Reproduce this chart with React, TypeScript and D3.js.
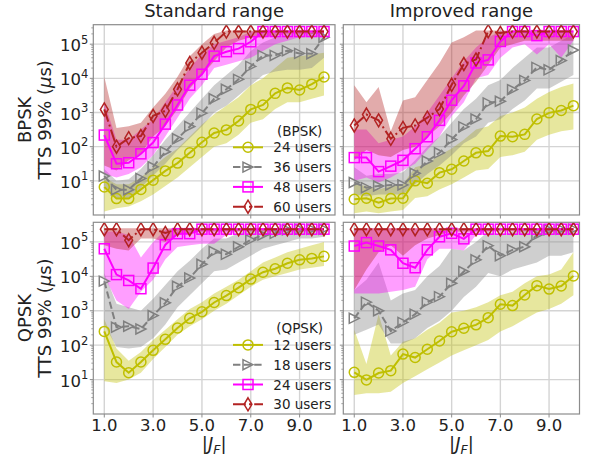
import React from "react";
import * as d3 from "d3";

// |J_F| values (x axis)
const JF = [1, 1.5, 2, 2.5, 3, 3.5, 4, 4.5, 5, 5.5, 6, 6.5, 7, 7.5, 8, 8.5, 9, 9.5, 10];
const X_TICKS = [1, 3, 5, 7, 9];
const Y_DECADES = [1, 2, 3, 4, 5];

// All TTS values below are given as exponents e (TTS = 10^e microseconds).
// ---- BPSK, standard range ----
const tl24 = [0.82, 0.48, 0.48, 0.75, 1.02, 1.29, 1.52, 1.82, 2.13, 2.40, 2.49, 2.75, 3.09, 3.22, 3.56, 3.72, 3.66, 3.83, 4.04];
const tl24Lo = [0.10, 0.20, 0.25, 0.40, 0.60, 0.85, 1.10, 1.40, 1.70, 2.00, 2.10, 2.35, 2.70, 2.80, 3.10, 3.30, 3.30, 3.40, 3.50];
const tl24Hi = [1.10, 0.90, 0.90, 1.10, 1.40, 1.70, 1.95, 2.30, 2.65, 2.95, 3.20, 3.45, 3.80, 4.00, 4.30, 4.60, 4.65, 4.70, 4.75];
const tl36 = [1.14, 0.74, 0.74, 1.07, 1.41, 1.85, 2.23, 2.59, 2.98, 3.40, 3.68, 3.97, 4.35, 4.67, 4.67, 4.81, 4.73, 4.72, 5.20];
const tl36Lo = [0.85, 0.50, 0.50, 0.80, 1.15, 1.50, 1.90, 2.25, 2.60, 3.00, 3.20, 3.50, 3.80, 4.10, 4.20, 4.25, 4.25, 4.30, 4.60];
const tl36Hi = [1.35, 1.00, 1.05, 1.35, 1.75, 2.20, 2.60, 3.00, 3.40, 3.80, 4.10, 4.40, 4.80, 5.05, 5.20, 5.30, 5.30, 5.33, 5.36];
const tl48 = [2.34, 1.50, 1.53, 1.79, 2.12, 2.66, 3.22, 3.80, 4.12, 4.65, 4.78, 4.87, 5.07, 5.37, 5.37, 5.37, 5.37, 5.37, 5.37];
const tl48Lo = [1.20, 1.10, 1.20, 1.40, 1.75, 2.30, 2.85, 3.40, 3.80, 4.30, 4.40, 4.50, 4.60, 4.80, 5.00, 5.10, 5.20, 5.20, 5.25];
const tl48Hi = [3.30, 2.20, 2.20, 2.50, 2.80, 3.30, 3.80, 4.30, 4.70, 5.00, 5.10, 5.20, 5.37, 5.40, 5.40, 5.40, 5.40, 5.40, 5.40];
const tl60 = [3.09, 2.00, 2.25, 2.31, 2.90, 3.05, 3.68, 4.45, 4.75, 5.04, 5.37, 5.37, 5.37, 5.37, 5.37, 5.37, 5.37, 5.37, 5.37];
const tl60Lo = [1.45, 1.30, 1.60, 1.80, 2.30, 2.60, 3.10, 3.70, 4.10, 4.50, 4.90, 5.10, 5.20, 5.20, 5.25, 5.30, 5.30, 5.30, 5.30];
const tl60Hi = [4.05, 2.55, 2.60, 2.70, 3.15, 3.55, 4.05, 4.65, 5.00, 5.30, 5.40, 5.40, 5.40, 5.40, 5.40, 5.40, 5.40, 5.40, 5.40];

// ---- BPSK, improved range ----
const tr24 = [0.46, 0.49, 0.36, 0.48, 0.49, 1.00, 0.93, 1.24, 1.34, 1.58, 1.82, 1.87, 2.31, 2.29, 2.36, 2.81, 2.99, 3.06, 3.20];
const tr24Lo = [0.05, 0.10, 0.05, 0.10, 0.15, 0.50, 0.55, 0.75, 0.90, 1.10, 1.30, 1.35, 1.70, 1.75, 1.85, 2.20, 2.35, 2.45, 2.50];
const tr24Hi = [0.90, 0.85, 0.75, 0.85, 0.90, 1.40, 1.50, 1.75, 1.95, 2.20, 2.50, 2.60, 2.90, 3.00, 3.15, 3.40, 3.60, 3.75, 3.85];
const tr36 = [0.95, 0.80, 0.85, 0.88, 0.88, 1.22, 1.58, 1.82, 2.21, 2.58, 2.81, 3.28, 3.33, 3.67, 3.94, 4.32, 4.25, 4.52, 4.83];
const tr36Lo = [0.60, 0.55, 0.60, 0.60, 0.60, 0.90, 1.20, 1.45, 1.75, 2.10, 2.30, 2.70, 2.80, 3.10, 3.35, 3.70, 3.70, 3.90, 4.10];
const tr36Hi = [1.40, 1.15, 1.20, 1.20, 1.25, 1.60, 2.00, 2.30, 2.70, 3.10, 3.40, 3.80, 3.95, 4.30, 4.60, 4.90, 4.90, 5.10, 5.30];
const tr48 = [1.68, 1.68, 1.27, 1.43, 1.60, 1.94, 2.29, 2.77, 3.36, 3.78, 4.45, 4.54, 5.08, 5.37, 5.37, 5.25, 5.37, 5.37, 5.37];
const tr48Lo = [1.00, 1.10, 0.95, 1.10, 1.30, 1.50, 1.90, 2.30, 2.90, 3.30, 4.00, 4.10, 4.60, 4.90, 5.00, 4.70, 5.00, 4.60, 5.10];
const tr48Hi = [2.50, 2.50, 2.10, 2.20, 2.30, 2.60, 3.00, 3.50, 4.00, 4.50, 4.90, 5.20, 5.37, 5.40, 5.40, 5.40, 5.40, 5.40, 5.40];
const tr60 = [2.62, 2.94, 2.77, 2.23, 2.55, 2.62, 2.85, 3.10, 3.81, 4.42, 4.55, 5.38, 5.33, 5.37, 5.37, 5.37, 5.37, 5.37, 5.37];
const tr60Lo = [1.60, 1.90, 1.75, 1.70, 1.90, 2.00, 2.30, 2.60, 3.00, 3.50, 3.90, 4.40, 4.90, 5.00, 5.10, 5.10, 5.10, 5.10, 5.10];
const tr60Hi = [3.80, 3.30, 3.75, 2.45, 3.35, 3.45, 3.95, 4.45, 5.05, 5.20, 5.40, 5.40, 5.40, 5.40, 5.40, 5.40, 5.40, 5.40, 5.40];

// ---- QPSK, standard range ----
const bl12 = [2.40, 1.51, 1.20, 1.51, 1.85, 2.17, 2.50, 2.78, 2.97, 3.24, 3.44, 3.67, 3.92, 4.12, 4.22, 4.38, 4.48, 4.52, 4.58];
const bl12Lo = [0.95, 0.90, 1.00, 1.20, 1.60, 1.95, 2.30, 2.55, 2.75, 3.00, 3.20, 3.45, 3.70, 3.90, 4.00, 4.10, 4.20, 4.25, 4.30];
const bl12Hi = [2.75, 1.90, 1.55, 1.80, 2.15, 2.45, 2.75, 3.05, 3.25, 3.50, 3.70, 3.90, 4.15, 4.40, 4.55, 4.70, 4.80, 4.90, 5.00];
const bl18 = [3.86, 2.52, 2.55, 2.47, 2.86, 3.23, 3.71, 3.95, 4.35, 4.72, 4.64, 4.86, 5.06, 5.20, 5.25, 5.35, 5.37, 5.37, 5.37];
const bl18Lo = [2.60, 1.95, 1.90, 1.95, 2.20, 2.60, 3.10, 3.45, 3.80, 4.15, 4.20, 4.40, 4.60, 4.80, 4.90, 5.00, 5.10, 5.10, 5.15];
const bl18Hi = [4.10, 3.20, 3.10, 3.00, 3.35, 3.75, 4.15, 4.45, 4.80, 5.10, 5.10, 5.25, 5.35, 5.40, 5.40, 5.40, 5.40, 5.40, 5.40];
const bl24 = [4.80, 4.05, 3.88, 3.64, 4.24, 4.92, 5.24, 5.24, 5.37, 5.37, 5.37, 5.37, 5.37, 5.37, 5.37, 5.37, 5.37, 5.37, 5.37];
const bl24Lo = [4.00, 3.30, 3.05, 3.55, 3.90, 4.50, 4.85, 4.90, 4.95, 4.95, 5.20, 5.30, 5.35, 5.37, 5.37, 5.37, 5.37, 5.37, 5.37];
const bl24Hi = [5.30, 5.30, 5.20, 4.55, 5.00, 5.35, 5.40, 5.40, 5.40, 5.40, 5.40, 5.40, 5.40, 5.40, 5.40, 5.40, 5.40, 5.40, 5.40];
const bl30 = [5.37, 5.37, 5.05, 5.37, 5.37, 5.26, 5.37, 5.37, 5.37, 5.37, 5.37, 5.37, 5.37, 5.37, 5.37, 5.37, 5.37, 5.37, 5.37];
const bl30Lo = [4.90, 4.80, 4.75, 5.10, 5.10, 5.00, 5.20, 5.25, 5.30, 5.30, 5.30, 5.30, 5.30, 5.30, 5.30, 5.30, 5.30, 5.30, 5.30];
const bl30Hi = [5.40, 5.40, 5.40, 5.40, 5.40, 5.40, 5.40, 5.40, 5.40, 5.40, 5.40, 5.40, 5.40, 5.40, 5.40, 5.40, 5.40, 5.40, 5.40];

// ---- QPSK, improved range ----
const br12 = [1.21, 0.99, 1.19, 1.26, 1.74, 1.64, 1.88, 2.12, 2.39, 2.49, 2.59, 2.80, 3.19, 3.15, 3.46, 3.73, 3.63, 3.72, 4.01];
const br12Lo = [0.55, 0.60, 0.60, 0.65, 0.90, 1.10, 1.30, 1.50, 1.70, 1.85, 2.00, 2.15, 2.40, 2.55, 2.75, 2.95, 3.05, 3.20, 3.45];
const br12Hi = [2.45, 1.45, 2.90, 1.70, 2.10, 2.20, 2.45, 2.65, 2.95, 3.00, 3.10, 3.25, 3.45, 3.55, 3.80, 4.00, 4.05, 4.20, 4.70];
const br18 = [2.78, 3.25, 3.00, 2.41, 2.66, 2.90, 3.25, 3.41, 3.80, 4.14, 4.48, 4.89, 4.60, 4.77, 4.86, 5.20, 5.35, 5.37, 5.37];
const br18Lo = [2.30, 2.45, 2.60, 2.05, 2.05, 2.20, 2.50, 2.70, 3.00, 3.40, 3.70, 4.10, 4.00, 4.20, 4.30, 4.40, 4.60, 4.60, 4.70];
const br18Hi = [3.60, 3.90, 4.40, 3.30, 3.50, 3.60, 4.00, 4.30, 4.80, 4.75, 5.00, 5.30, 5.20, 5.30, 5.35, 5.38, 5.40, 5.40, 5.40];
const br24 = [4.88, 4.98, 4.88, 4.77, 4.38, 4.25, 4.77, 5.15, 5.25, 5.09, 5.37, 5.37, 5.37, 5.37, 5.37, 5.37, 5.37, 5.37, 5.37];
const br24Lo = [3.50, 3.50, 3.50, 3.55, 3.60, 3.70, 4.50, 4.80, 4.80, 4.75, 5.20, 5.30, 5.35, 5.37, 5.37, 5.37, 5.37, 5.37, 5.37];
const br24Hi = [5.35, 5.40, 5.40, 5.40, 5.40, 5.40, 5.40, 5.40, 5.40, 5.40, 5.40, 5.40, 5.40, 5.40, 5.40, 5.40, 5.40, 5.40, 5.40];
const br30 = [5.37, 5.37, 5.37, 5.37, 5.37, 5.37, 5.37, 5.37, 5.37, 5.37, 5.37, 5.37, 5.37, 5.37, 5.37, 5.37, 5.37, 5.37, 5.37];
const br30Lo = [3.60, 4.20, 4.70, 4.90, 4.60, 4.90, 5.10, 5.20, 5.30, 5.30, 5.30, 5.30, 5.30, 5.30, 5.30, 5.30, 5.30, 5.30, 5.30];
const br30Hi = [5.40, 5.40, 5.40, 5.40, 5.40, 5.40, 5.40, 5.40, 5.40, 5.40, 5.40, 5.40, 5.40, 5.40, 5.40, 5.40, 5.40, 5.40, 5.40];

const BPSK_LABELS = ["24 users", "36 users", "48 users", "60 users"];
const QPSK_LABELS = ["12 users", "18 users", "24 users", "30 users"];
const COL_TITLES = ["Standard range", "Improved range"];
const ROW_NAMES = ["BPSK", "QPSK"];

const STYLES = [
  { color: "#bfbf00", marker: "circle", dash: "" },
  { color: "#808080", marker: "tri", dash: "7.4,3.2" },
  { color: "#ff00ff", marker: "square", dash: "" },
  { color: "#b22222", marker: "diamond", dash: "12.8,3.2,2,3.2" },
];
const BAND_ALPHA = 0.38;

const FONT = "DejaVu Sans, sans-serif";
const SPINE = "#8c8c8c";
const GRID = "#d4d4d4";
const TEXT = "#222";

type S = { mid: number[]; lo: number[]; hi: number[] };

const PANELS = [
  { id: "tl", x0: 93.3, x1: 335, y0: 24.7, y1: 215, xMax: 10.45, left: true, bottom: false, title: COL_TITLES[0], legend: { name: "(BPSK)", labels: BPSK_LABELS },
    series: [ { mid: tl24, lo: tl24Lo, hi: tl24Hi }, { mid: tl36, lo: tl36Lo, hi: tl36Hi }, { mid: tl48, lo: tl48Lo, hi: tl48Hi }, { mid: tl60, lo: tl60Lo, hi: tl60Hi } ] },
  { id: "tr", x0: 343.3, x1: 579.5, y0: 24.7, y1: 215, xMax: 10.25, left: false, bottom: false, title: COL_TITLES[1], legend: null,
    series: [ { mid: tr24, lo: tr24Lo, hi: tr24Hi }, { mid: tr36, lo: tr36Lo, hi: tr36Hi }, { mid: tr48, lo: tr48Lo, hi: tr48Hi }, { mid: tr60, lo: tr60Lo, hi: tr60Hi } ] },
  { id: "bl", x0: 93.3, x1: 335, y0: 222.3, y1: 414, xMax: 10.45, left: true, bottom: true, title: null, legend: { name: "(QPSK)", labels: QPSK_LABELS },
    series: [ { mid: bl12, lo: bl12Lo, hi: bl12Hi }, { mid: bl18, lo: bl18Lo, hi: bl18Hi }, { mid: bl24, lo: bl24Lo, hi: bl24Hi }, { mid: bl30, lo: bl30Lo, hi: bl30Hi } ] },
  { id: "br", x0: 343.3, x1: 579.5, y0: 222.3, y1: 414, xMax: 10.25, left: false, bottom: true, title: null, legend: null,
    series: [ { mid: br12, lo: br12Lo, hi: br12Hi }, { mid: br18, lo: br18Lo, hi: br18Hi }, { mid: br24, lo: br24Lo, hi: br24Hi }, { mid: br30, lo: br30Lo, hi: br30Hi } ] },
];

function Marker({ kind, x, y, color }: { kind: string; x: number; y: number; color: string }) {
  const common = { fill: "none", stroke: color, strokeWidth: 1.5 };
  if (kind === "circle") return <circle cx={x} cy={y} r={5} {...common} />;
  if (kind === "square") return <rect x={x - 5} y={y - 5} width={10} height={10} {...common} />;
  if (kind === "tri") return <path d={`M${x + 5},${y} L${x - 5},${y + 5} L${x - 5},${y - 5} Z`} {...common} />;
  return <path d={`M${x},${y - 6.5} L${x + 3.9},${y} L${x},${y + 6.5} L${x - 3.9},${y} Z`} {...common} />;
}

function Panel({ p }: { p: any }) {
  const x = d3.scaleLinear().domain([0.55, p.xMax]).range([p.x0, p.x1]);
  const y = d3.scaleLog().domain([1, Math.pow(10, 5.57)]).range([p.y1, p.y0]);
  const clip = `clip-${p.id}`;
  const minor: number[] = [];
  for (let k = 0; k <= 5; k++) for (let m = 2; m <= 9; m++) {
    const v = m * Math.pow(10, k);
    if (v < Math.pow(10, 5.57)) minor.push(v);
  }
  const series: S[] = p.series;
  const band = (s: S) =>
    d3.area<number>().x((d) => x(d)).y0((_, i) => y(Math.pow(10, s.lo[i]))).y1((_, i) => y(Math.pow(10, s.hi[i])))(JF) || "";
  const line = (s: S) => d3.line<number>().x((d) => x(d)).y((_, i) => y(Math.pow(10, s.mid[i])))(JF) || "";
  const cx = (p.x0 + p.x1) / 2;
  return (
    <g>
      <defs>
        <clipPath id={clip}>
          <rect x={p.x0} y={p.y0} width={p.x1 - p.x0} height={p.y1 - p.y0} />
        </clipPath>
      </defs>
      {X_TICKS.map((t) => (
        <line key={"gx" + t} x1={x(t)} x2={x(t)} y1={p.y0} y2={p.y1} stroke={GRID} strokeWidth={1.4} />
      ))}
      {Y_DECADES.map((k) => (
        <line key={"gy" + k} x1={p.x0} x2={p.x1} y1={y(Math.pow(10, k))} y2={y(Math.pow(10, k))} stroke={GRID} strokeWidth={1.4} />
      ))}
      <g clipPath={`url(#${clip})`}>
        {series.map((s, i) => (
          <path key={"b" + i} d={band(s)} fill={STYLES[i].color} fillOpacity={BAND_ALPHA} stroke="none" />
        ))}
        {series.map((s, i) => (
          <g key={"l" + i}>
            <path d={line(s)} fill="none" stroke={STYLES[i].color} strokeWidth={2} strokeDasharray={STYLES[i].dash || undefined} />
            {JF.map((v, j) => (
              <Marker key={j} kind={STYLES[i].marker} x={x(v)} y={y(Math.pow(10, s.mid[j]))} color={STYLES[i].color} />
            ))}
          </g>
        ))}
      </g>
      <rect x={p.x0} y={p.y0} width={p.x1 - p.x0} height={p.y1 - p.y0} fill="none" stroke={SPINE} strokeWidth={1.2} />
      {X_TICKS.map((t) => (
        <g key={"xt" + t}>
          <line x1={x(t)} x2={x(t)} y1={p.y1} y2={p.y1 + 3.5} stroke={SPINE} strokeWidth={1} />
          {p.bottom && (
            <text x={x(t)} y={p.y1 + 17} textAnchor="middle" fontFamily={FONT} fontSize={16.5} fill={TEXT}>
              {d3.format(".1f")(t)}
            </text>
          )}
        </g>
      ))}
      {Y_DECADES.map((k) => (
        <g key={"yt" + k}>
          <line x1={p.x0 - 3.5} x2={p.x0} y1={y(Math.pow(10, k))} y2={y(Math.pow(10, k))} stroke={SPINE} strokeWidth={1} />
          {p.left && (
            <text x={p.x0 - 5} y={y(Math.pow(10, k)) + 7} textAnchor="end" fontFamily={FONT} fontSize={16.5} fill={TEXT}>
              10<tspan dy={-7.5} fontSize={11.5}>{k}</tspan>
            </text>
          )}
        </g>
      ))}
      {minor.map((v) => (
        <line key={"ym" + v} x1={p.x0 - 2} x2={p.x0} y1={y(v)} y2={y(v)} stroke={SPINE} strokeWidth={0.8} />
      ))}
      {p.title && (
        <text x={cx} y={16.7} textAnchor="middle" fontFamily={FONT} fontSize={18} fill={TEXT}>
          {p.title}
        </text>
      )}
      {p.bottom && (
        <text x={cx} y={450} textAnchor="middle" fontFamily={FONT} fontSize={18} fill={TEXT}>
          |<tspan fontStyle="italic">J</tspan>
          <tspan fontStyle="italic" fontSize={12.5} dy={4}>F</tspan>
          <tspan dy={-4}>|</tspan>
        </text>
      )}
      {p.legend && (
        <g>
          <text x={299.7} y={p.y0 + 110.8} textAnchor="middle" fontFamily={FONT} fontSize={13.5} fill={TEXT}>
            {p.legend.name}
          </text>
          {p.legend.labels.map((lab: string, i: number) => {
            const ry = p.y0 + 122.6 + i * 19.8;
            const st = STYLES[i];
            return (
              <g key={lab}>
                <line x1={233} x2={263} y1={ry} y2={ry} stroke={st.color} strokeWidth={2} strokeDasharray={st.dash || undefined} />
                <Marker kind={st.marker} x={248} y={ry} color={st.color} />
                <text x={273.3} y={ry + 5} fontFamily={FONT} fontSize={13.5} fill={TEXT}>
                  {lab}
                </text>
              </g>
            );
          })}
        </g>
      )}
    </g>
  );
}

export default function App() {
  const rows = [
    { name: ROW_NAMES[0], cy: (24.7 + 215) / 2 },
    { name: ROW_NAMES[1], cy: (222.3 + 414) / 2 },
  ];
  return (
    <div style={{ position: "absolute", left: 0, top: 0 }}>
      <svg width={589} height={459} viewBox="0 0 589 459" style={{ display: "block", background: "#fff" }}>
        <rect x={0} y={0} width={589} height={459} fill="#fff" />
        {PANELS.map((p) => (
          <Panel key={p.id} p={p} />
        ))}
        {rows.map((r) => (
          <g key={r.name} transform={`translate(0,${r.cy}) rotate(-90)`}>
            <text x={0} y={30.5} textAnchor="middle" fontFamily={FONT} fontSize={18} fill={TEXT}>
              {r.name}
            </text>
            <text x={0} y={51} textAnchor="middle" fontFamily={FONT} fontSize={18} fill={TEXT}>
              TTS 99% (<tspan fontStyle="italic">μ</tspan>s)
            </text>
          </g>
        ))}
      </svg>
    </div>
  );
}
